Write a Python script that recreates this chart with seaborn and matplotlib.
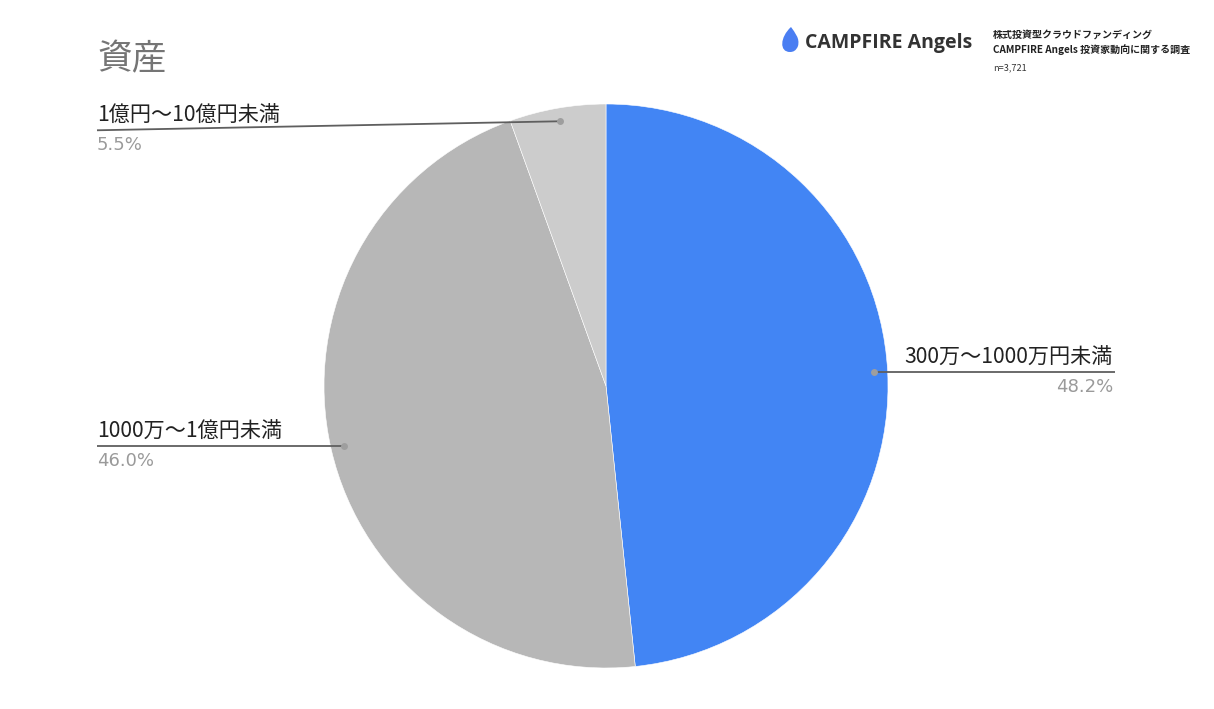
import numpy as np
import matplotlib
matplotlib.use("Agg")
import matplotlib.pyplot as plt
from matplotlib.path import Path
from matplotlib.patches import PathPatch
import seaborn as sns

#%%
#  Data

title = "資産"
labels = ["300万〜1000万円未満", "1000万〜1億円未満", "1億円〜10億円未満"]
shares = [48.2, 46.0, 5.5]
colors = ["#4285f4", "#b7b7b7", "#cccccc"]
survey_lines = ["株式投資型クラウドファンディング", "CAMPFIRE Angels 投資家動向に関する調査"]
n_text = "n=3,721"

#%%
#  Figure setup

sns.set_theme(style="white")
plt.rcParams['font.family'] = ['Noto Sans CJK JP', 'DejaVu Sans']

W, H = 1214, 709
fig = plt.figure(figsize=(W / 100, H / 100), dpi=100)
ax = fig.add_axes([0, 0, 1, 1])

def py(y):  # pixel row -> data y
    return H - y

cx, cy, r = 606, py(386), 282

wedges, _ = ax.pie(shares, colors=colors, startangle=90, counterclock=False,
                   center=(cx, cy), radius=r, frame=True,
                   wedgeprops=dict(linewidth=0.4, edgecolor="white"))
ax.set_xlim(0, W)
ax.set_ylim(0, H)
ax.set_aspect("equal")
ax.axis("off")

#%%
#  Leader lines and labels

line_col = "#5f5f5f"
pct_col = "#9a9a9a"
txt_col = "#222222"
for i, w in enumerate(wedges):
    mid = np.deg2rad((w.theta1 + w.theta2) / 2)
    dx, dy = cx + 0.953 * r * np.cos(mid), cy + 0.953 * r * np.sin(mid)
    if np.cos(mid) > 0:
        x_end, y_end, ha, tx = 1115, dy, "right", 1113
    else:
        x_end, y_end, ha, tx = 97, dy - (9 if np.sin(mid) > 0.5 else 0), "left", 97
    ax.plot([dx, x_end], [dy, y_end], color=line_col, lw=1.3, solid_capstyle="butt")
    ax.plot(dx, dy, "o", color="#9e9e9e", ms=5, mec="none")
    ax.text(tx, y_end + 14, labels[i], ha=ha, va="center", fontsize=15.2, color=txt_col)
    ax.text(tx, y_end - 15, f"{shares[i]:.1f}%", ha=ha, va="center", fontsize=13,
            color=pct_col, family=["DejaVu Sans"])

#%%
#  Title and header

ax.text(97, py(60), title, ha="left", va="center", fontsize=25, color="#757575")

# flame icon
fx, fy = 790, py(41)
verts = [(fx, fy - 11),
         (fx - 11, fy - 11), (fx - 10, fy + 4), (fx + 1, fy + 14),
         (fx + 5, fy + 8), (fx + 10, fy + 3), (fx + 8, fy - 5),
         (fx + 6, fy - 10), (fx + 3, fy - 11), (fx, fy - 11),
         (fx, fy - 11)]
codes = [Path.MOVETO] + [Path.CURVE4] * 9 + [Path.CLOSEPOLY]
ax.add_patch(PathPatch(Path(verts, codes), facecolor="#4a7ef2", edgecolor="none"))

ax.text(805, py(43), "CAMPFIRE Angels", ha="left", va="center", fontsize=14,
        fontweight="bold", color="#333333", family=["Open Sans", "DejaVu Sans"])
ax.text(993, py(35), survey_lines[0], ha="left", va="center", fontsize=7.2,
        fontweight="bold", color="#222222")
ax.text(993, py(50), survey_lines[1], ha="left", va="center", fontsize=7.2,
        fontweight="bold", color="#222222")
ax.text(993, py(68), n_text, ha="left", va="center", fontsize=6.6, color="#333333")

fig.savefig("out.png", dpi=100, facecolor="white")
